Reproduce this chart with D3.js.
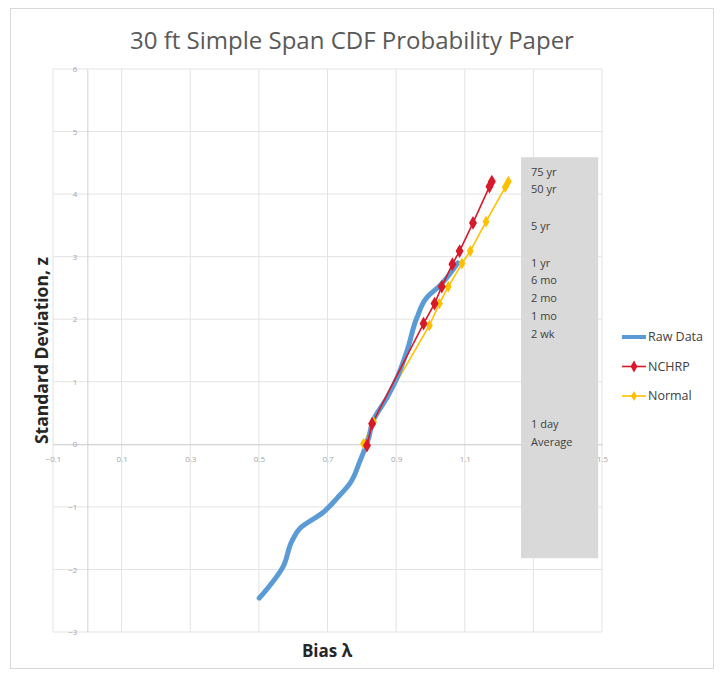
<!DOCTYPE html>
<html><head><meta charset="utf-8">
<script src="https://cdn.jsdelivr.net/npm/d3@7"></script>
<style>body{margin:0;background:#fff}svg{display:block}</style>
</head><body>
<svg id="c" width="720" height="673"></svg>
<script>
const title = "30 ft Simple Span CDF Probability Paper";
const xTicks = [-0.1, 0.1, 0.3, 0.5, 0.7, 0.9, 1.1, 1.3, 1.5];
const yTicks = [-3, -2, -1, 0, 1, 2, 3, 4, 5, 6];
const rawBias = [0.501, 0.571, 0.597, 0.620, 0.687, 0.728, 0.766, 0.795, 0.818, 0.833, 0.874, 0.903, 0.932, 0.961, 0.990, 1.028, 1.080];
const rawZ    = [-2.46, -1.95, -1.54, -1.34, -1.09, -0.86, -0.62, -0.26, 0.06, 0.38, 0.75, 1.07, 1.50, 2.03, 2.35, 2.54, 2.90];
const nchrpBias = [0.815, 0.830, 0.980, 1.012, 1.033, 1.064, 1.085, 1.124, 1.172, 1.179];
const nchrpZ    = [-0.02, 0.33, 1.93, 2.25, 2.52, 2.88, 3.09, 3.54, 4.12, 4.20];
const normalBias = [0.805, 0.834, 0.997, 1.026, 1.052, 1.092, 1.116, 1.162, 1.218, 1.227];
const normalZ    = [0.01, 0.36, 1.90, 2.25, 2.52, 2.89, 3.09, 3.56, 4.11, 4.20];
const periodLabels = ["75 yr", "50 yr", "5 yr", "1 yr", "6 mo", "2 mo", "1 mo", "2 wk", "1 day", "Average"];
const periodZ      = [4.35, 4.08, 3.49, 2.90, 2.62, 2.34, 2.05, 1.76, 0.32, 0.03];
const boxBias = [1.264, 1.489];
const boxZ = [-1.82, 4.59];
const seriesNames = ["Raw Data", "NCHRP", "Normal"];
const seriesColors = ["#5B9BD5", "#D7192A", "#FFC000"];

const svg = d3.select("#c");
svg.append("rect").attr("x",10.5).attr("y",8.5).attr("width",703).attr("height",660)
  .attr("fill","#fff").attr("stroke","#d9d9d9");

const x = d3.scaleLinear().domain([-0.1, 1.5]).range([53, 602]);
const y = d3.scaleLinear().domain([-3, 6]).range([632, 69]);

// gridlines
const g = svg.append("g");
g.selectAll(".vg").data(xTicks).join("line")
  .attr("x1", d=>x(d)).attr("x2", d=>x(d)).attr("y1", y(6)).attr("y2", y(-3))
  .attr("stroke","#e3e3e3").attr("stroke-width",1);
g.selectAll(".hg").data(yTicks).join("line")
  .attr("x1", x(-0.1)).attr("x2", x(1.5)).attr("y1", d=>y(d)).attr("y2", d=>y(d))
  .attr("stroke","#e3e3e3").attr("stroke-width",1);

// axes crossing at 0
const xAxis = d3.axisBottom(x).tickValues(xTicks).tickSize(0).tickPadding(12).tickFormat(d3.format(".1f"));
const xa = svg.append("g").attr("transform",`translate(0,${y(0)})`).call(xAxis);
xa.select(".domain").attr("stroke","#d0d0d0");
xa.selectAll("text").attr("fill","#a6a6a6").style("font-family","Open Sans, sans-serif").style("font-size","8px");
const yAxis = d3.axisLeft(y).tickValues(yTicks).tickSize(0).tickPadding(10).tickFormat(d3.format("d"));
const ya = svg.append("g").attr("transform",`translate(${x(0)},0)`).call(yAxis);
ya.select(".domain").attr("stroke","#d0d0d0");
ya.selectAll("text").attr("fill","#a6a6a6").style("font-family","Open Sans, sans-serif").style("font-size","8px");

// gray box
svg.append("rect").attr("x", x(boxBias[0])).attr("y", y(boxZ[1]))
  .attr("width", x(boxBias[1]) - x(boxBias[0])).attr("height", y(boxZ[0]) - y(boxZ[1]))
  .attr("fill","#d9d9d9");
svg.selectAll(".pl").data(periodLabels).join("text")
  .attr("x", x(boxBias[0]) + 10).attr("y", (d,i)=>y(periodZ[i]))
  .attr("dy","0.35em").attr("fill","#404040")
  .style("font-family","Open Sans, sans-serif").style("font-size","11px").text(d=>d);

// series
const raw = rawBias.map((b,i)=>[b, rawZ[i]]);
const nch = nchrpBias.map((b,i)=>[b, nchrpZ[i]]);
const nor = normalBias.map((b,i)=>[b, normalZ[i]]);
const line = d3.line().x(d=>x(d[0])).y(d=>y(d[1]));
const smooth = d3.line().x(d=>x(d[0])).y(d=>y(d[1])).curve(d3.curveMonotoneY);

svg.append("path").datum(nor).attr("d", line).attr("fill","none").attr("stroke",seriesColors[2]).attr("stroke-width",1.6);
svg.append("path").datum(raw).attr("d", smooth).attr("fill","none")
  .attr("stroke",seriesColors[0]).attr("stroke-width",5).attr("stroke-linecap","round").attr("stroke-linejoin","round");
svg.append("path").datum(nch).attr("d", line).attr("fill","none").attr("stroke",seriesColors[1]).attr("stroke-width",1.6);

const diamond = d3.symbol().type(d3.symbolDiamond);
svg.selectAll(".mn").data(nor).join("path")
  .attr("transform", d=>`translate(${x(d[0])},${y(d[1])})`)
  .attr("d", diamond.size(40)()).attr("fill",seriesColors[2]);
svg.selectAll(".mr").data(nch).join("path")
  .attr("transform", d=>`translate(${x(d[0])},${y(d[1])})`)
  .attr("d", diamond.size(55)()).attr("fill",seriesColors[1]);

// legend
const lg = svg.append("g").attr("transform","translate(622,337)");
seriesNames.forEach((n,i)=>{
  const gy = i*29.5;
  lg.append("line").attr("x1",0).attr("x2",24).attr("y1",gy).attr("y2",gy)
    .attr("stroke",seriesColors[i]).attr("stroke-width", i===0?4:1.6);
  if(i>0) lg.append("path").attr("transform",`translate(12,${gy})`)
    .attr("d", d3.symbol().type(d3.symbolDiamond).size(i===1?40:30)()).attr("fill",seriesColors[i]);
  lg.append("text").attr("x",26).attr("y",gy).attr("dy","0.35em").attr("fill","#404040")
    .style("font-family","Open Sans, sans-serif").style("font-size","12.5px").text(n);
});

// titles
svg.append("text").attr("x",352).attr("y",49).attr("text-anchor","middle").attr("fill","#595959")
  .style("font-family","Open Sans, sans-serif").style("font-size","24px").text(title);
svg.append("text").attr("transform",`translate(48,${y(1.5)}) rotate(-90)`).attr("text-anchor","middle")
  .attr("fill","#262626").style("font-family","Open Sans, sans-serif").style("font-size","17.5px").style("font-weight","bold")
  .text("Standard Deviation, z");
svg.append("text").attr("x",327).attr("y",657).attr("text-anchor","middle")
  .attr("fill","#262626").style("font-family","Open Sans, sans-serif").style("font-size","17px").style("font-weight","bold")
  .text("Bias λ");
</script>
</body></html>
